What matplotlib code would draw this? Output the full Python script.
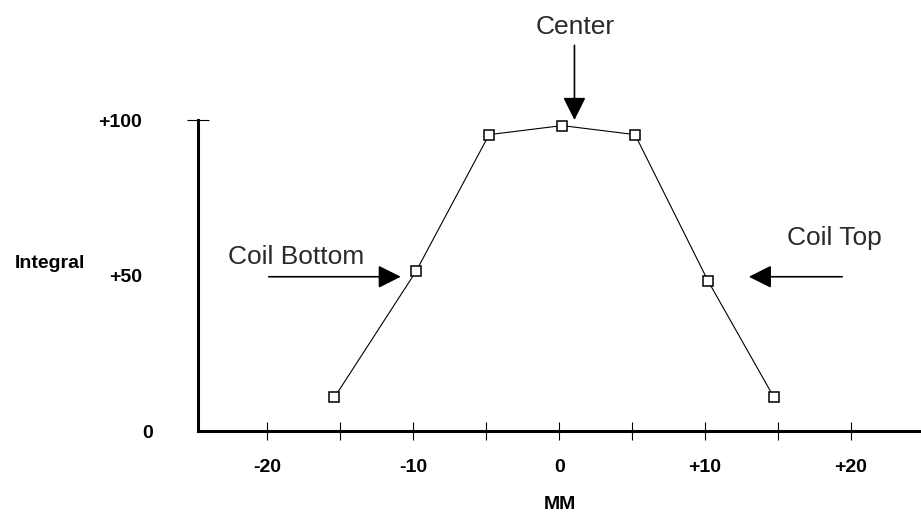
import numpy as np
import matplotlib
matplotlib.use("Agg")
import matplotlib.pyplot as plt
from matplotlib.transforms import ScaledTranslation

# position along coil (mm) and integral (% of max)
mm_pos = [-15.4, -9.8, -4.8, 0.2, 5.2, 10.2, 14.7]
integral = [10.8, 51.4, 95.3, 98.2, 95.3, 48.3, 11.0]

x_ticks = [-20, -15, -10, -5, 0, 5, 10, 15, 20]
x_labels = ["-20", "", "-10", "", "0", "", "+10", "", "+20"]
y_ticks = [0, 50, 100]
y_labels = ["0", "+50", "+100"]

plt.rcParams["font.family"] = ["Liberation Sans", "DejaVu Sans"]

fig = plt.figure(figsize=(9.21, 5.14), dpi=100)
ax = fig.add_axes([198 / 921, 83 / 514, 1 - 198 / 921, 311 / 514])
ax.set_xlim(-24.75, 24.8)
ax.set_ylim(0, 100)

ax.plot(mm_pos, integral, color="black", lw=0.8, marker="s", ms=6.5,
        mfc="white", mec="black", mew=1.1, clip_on=False, zorder=3)

for side in ("top", "right"):
    ax.spines[side].set_visible(False)
ax.spines["left"].set_linewidth(2.2)
ax.spines["bottom"].set_linewidth(2.2)

ax.set_xticks(x_ticks)
ax.set_xticklabels(x_labels, fontsize=14, fontweight="bold")
ax.tick_params(axis="x", direction="inout", length=13, width=0.8, pad=14)

ax.set_yticks(y_ticks)
ax.set_yticklabels(y_labels, fontsize=14, fontweight="bold")
ax.tick_params(axis="y", direction="inout", length=16.5, width=0.8, pad=32)
# only the top of the y axis carries a cap
for t in ax.yaxis.get_major_ticks()[:2]:
    t.tick1line.set_visible(False)
# the "0" label sits a little further right in the original
lab0 = ax.get_yticklabels()[0]
lab0.set_transform(lab0.get_transform() + ScaledTranslation(0.11, 0, fig.dpi_scale_trans))

ax.set_xlabel("MM", fontsize=14, fontweight="bold", labelpad=14)
ax.text(-0.205, 0.537, "Integral", transform=ax.transAxes, fontsize=14,
        fontweight="bold", ha="center", va="center")

arrow = dict(arrowstyle="-|>,head_length=1.0,head_width=0.5", color="black",
             lw=1.2, shrinkA=0, shrinkB=0, mutation_scale=14)
ax.annotate("", xy=(1.05, 100), xytext=(1.05, 124), arrowprops=arrow,
            annotation_clip=False)
ax.annotate("", xy=(-10.85, 49.6), xytext=(-19.9, 49.6), arrowprops=arrow,
            annotation_clip=False)
ax.annotate("", xy=(13.0, 49.6), xytext=(19.4, 49.6), arrowprops=arrow,
            annotation_clip=False)

txt = dict(fontsize=19, color="#2a2a2a", ha="center", va="center", clip_on=False)
ax.text(1.1, 130.0, "Center", **txt)
ax.text(-18.0, 56.0, "Coil Bottom", **txt)
ax.text(18.85, 62.0, "Coil Top", **txt)

fig.savefig("out.png", dpi=100)
